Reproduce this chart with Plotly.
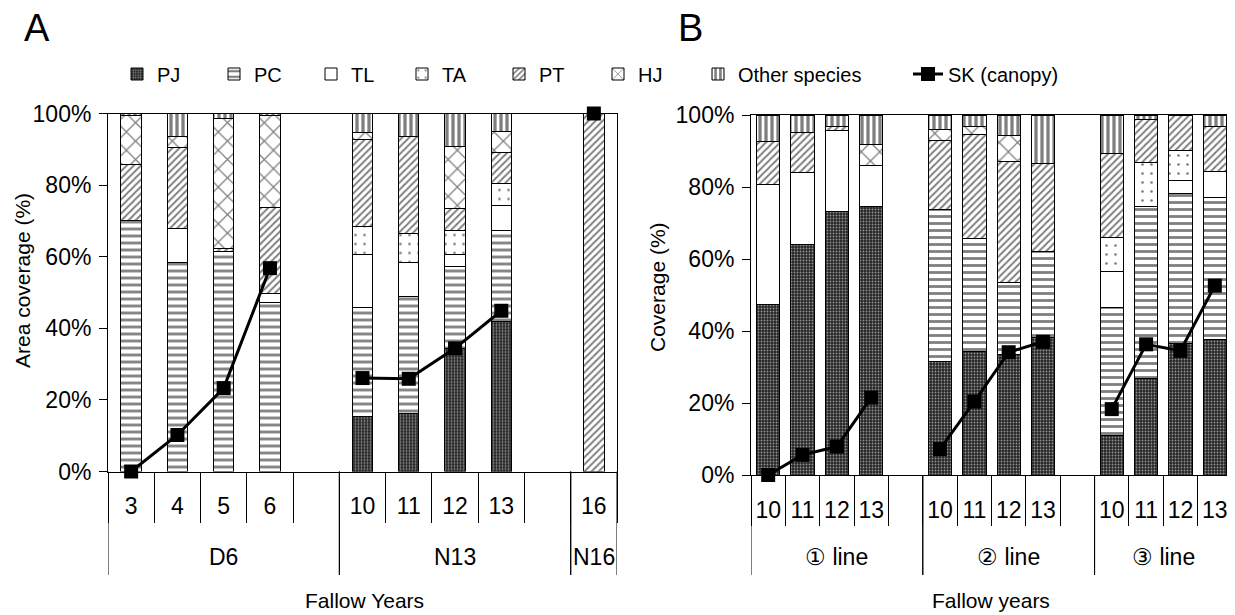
import plotly.graph_objects as go

# The page body adds an 8px margin; all pixel targets below are screenshot pixels.
OFF = 8
W, H = 1235 - OFF, 615 - OFF
FONT = "Arial, Liberation Sans, sans-serif"

SPECIES = ["PJ", "PC", "TL", "TA", "PT", "HJ", "Other species"]

# ---------------- Panel A data (% area coverage, stacked) ----------------
A_years = ["3", "4", "5", "6", "10", "11", "12", "13", "16"]
A_sites = ["D6", "D6", "D6", "D6", "N13", "N13", "N13", "N13", "N16"]
A_PJ = [0, 0, 0, 0, 15.3, 16.3, 34.4, 41.9, 0]
A_PC = [70.0, 58.3, 61.4, 47.2, 30.6, 32.7, 22.8, 25.5, 0]
A_TL = [0, 9.6, 0, 2.6, 14.6, 9.3, 3.3, 7.0, 0]
A_TA = [0, 0, 0, 0, 7.9, 8.2, 6.9, 6.1, 0]
A_PT = [15.8, 22.5, 1.0, 23.9, 24.3, 27.2, 6.1, 8.6, 100]
A_HJ = [13.7, 3.3, 36.1, 25.8, 2.0, 0, 17.2, 5.8, 0]
A_OT = [0.5, 6.3, 1.5, 0.5, 5.3, 6.3, 9.3, 5.1, 0]
A_SK = [0, 10.2, 23.3, 56.8, 26.1, 25.9, 34.4, 44.9, 100]

# ---------------- Panel B data ----------------
B_years = ["10", "11", "12", "13"] * 3
B_lines = ["① line"] * 4 + ["② line"] * 4 + ["③ line"] * 4
B_PJ = [47.5, 63.9, 73.3, 74.5, 31.5, 34.3, 33.5, 38.2, 11.1, 26.9, 36.6, 37.7]
B_PC = [0, 0, 0, 0, 42.3, 31.4, 19.9, 23.8, 35.5, 47.8, 41.6, 39.4]
B_TL = [33.3, 20.1, 22.5, 11.6, 0, 0, 0, 0, 9.9, 0, 3.7, 7.1]
B_TA = [0, 0, 0, 0, 0, 0, 0, 0, 9.4, 12.1, 8.2, 0]
B_PT = [11.8, 11.2, 1.0, 0, 19.1, 28.9, 33.6, 24.6, 23.5, 12.0, 9.9, 12.5]
B_HJ = [0, 0, 0, 5.6, 3.1, 2.2, 7.4, 0, 0, 0, 0, 0]
B_OT = [7.4, 4.8, 3.2, 8.3, 4.0, 3.2, 5.6, 13.4, 10.6, 1.2, 0, 3.3]
B_SK = [0, 5.6, 7.9, 21.5, 7.2, 20.4, 34.1, 37.0, 18.3, 36.3, 34.5, 52.6]

A_VALUES = [A_PJ, A_PC, A_TL, A_TA, A_PT, A_HJ, A_OT]
B_VALUES = [B_PJ, B_PC, B_TL, B_TA, B_PT, B_HJ, B_OT]

PATTERNS = {
    "PJ": dict(shape=".", size=3, solidity=0.3, fgcolor="white", bgcolor="#262626"),
    "PC": dict(shape="-", size=7, solidity=0.4, fgcolor="black", bgcolor="white"),
    "TL": dict(shape="", fgcolor="black", bgcolor="white"),
    "TA": dict(shape=".", size=9, solidity=0.07, fgcolor="black", bgcolor="white"),
    "PT": dict(shape="/", size=5, solidity=0.4, fgcolor="black", bgcolor="white"),
    "HJ": dict(shape="x", size=13, solidity=0.18, fgcolor="black", bgcolor="white"),
    "Other species": dict(shape="|", size=6, solidity=0.55, fgcolor="black", bgcolor="white"),
}
LEGEND_W = {"PJ": 52, "PC": 52, "TL": 46, "TA": 52, "PT": 54, "HJ": 54, "Other species": 165}


def slot_positions(groups):
    """Category slot index; one empty slot separates consecutive groups."""
    pos, g, prev = [], 0, None
    for i, grp in enumerate(groups):
        if prev is not None and grp != prev:
            g += 1
        pos.append(i + g)
        prev = grp
    return pos


def with_breaks(pos, vals, groups):
    xs, ys, prev = [], [], None
    for p, v, grp in zip(pos, vals, groups):
        if prev is not None and grp != prev:
            xs.append(None)
            ys.append(None)
        xs.append(p)
        ys.append(v)
        prev = grp
    return xs, ys


def nz(vals):
    return [v if v else None for v in vals]


A_pos = slot_positions(A_sites)
B_pos = slot_positions(B_lines)

fig = go.Figure()

for sp, av, bv in zip(SPECIES, A_VALUES, B_VALUES):
    leg = "legend2" if sp == "Other species" else "legend"
    fig.add_trace(go.Bar(
        x=A_pos, y=nz(av), name=sp, legendgroup=sp, width=0.44, legend=leg,
        legendwidth=LEGEND_W[sp],
        marker=dict(color="white", line=dict(color="black", width=1), pattern=PATTERNS[sp]),
        xaxis="x", yaxis="y", showlegend=True))
    fig.add_trace(go.Bar(
        x=B_pos, y=nz(bv), name=sp, legendgroup=sp, width=0.68, legend=leg,
        marker=dict(color="white", line=dict(color="black", width=1), pattern=PATTERNS[sp]),
        xaxis="x2", yaxis="y2", showlegend=False))

ax, ay = with_breaks(A_pos, A_SK, A_sites)
bx, by = with_breaks(B_pos, B_SK, B_lines)
line_style = dict(color="black", width=3)
mk = dict(symbol="square", size=14, color="black")
fig.add_trace(go.Scatter(x=ax, y=ay, mode="lines+markers", name="SK (canopy)", legendgroup="SK",
                         legend="legend2", line=line_style, marker=mk, cliponaxis=False,
                         xaxis="x", yaxis="y", connectgaps=False))
fig.add_trace(go.Scatter(x=bx, y=by, mode="lines+markers", name="SK (canopy)", legendgroup="SK",
                         legend="legend2", line=line_style, marker=mk, cliponaxis=False,
                         xaxis="x2", yaxis="y2", connectgaps=False, showlegend=False))


def px_x(p):
    return (p - OFF) / W


def px_y(p):
    return 1 - (p - OFF) / H


A_top, A_bot = 113.5, 471.5
B_top, B_bot = 115.0, 475.0
A_left, A_right = 108.0, 617.0
B_left, B_right = 751.0, 1232.0

A_nslots = A_pos[-1] + 1
B_nslots = B_pos[-1] + 1

common_x = dict(showline=True, linecolor="black", linewidth=1, mirror=True, showgrid=False,
                zeroline=False, ticks="", automargin=False, ticklabelstandoff=14,
                tickfont=dict(size=23, color="black", family=FONT),
                minor=dict(ticks="outside", ticklen=50, tickcolor="black", tickwidth=1,
                           tick0=0.5, dtick=1, showgrid=False))
common_y = dict(showline=True, linecolor="black", linewidth=1, mirror=True, showgrid=False,
                zeroline=False, range=[0, 100], dtick=20, ticksuffix="%", ticks="outside",
                ticklen=8, tickcolor="black", automargin=False, ticklabelstandoff=3,
                tickfont=dict(size=23, color="black", family=FONT))

legend_common = dict(orientation="h", xanchor="left", yanchor="middle", y=px_y(74),
                     font=dict(size=20, color="black", family=FONT), bgcolor="rgba(0,0,0,0)",
                     traceorder="normal", borderwidth=0)

fig.update_layout(
    width=W, height=H, margin=dict(l=0, r=0, t=0, b=0, pad=0, autoexpand=False),
    paper_bgcolor="white", plot_bgcolor="white",
    barmode="stack",
    font=dict(family=FONT, color="black"),
    xaxis=dict(domain=[px_x(A_left), px_x(A_right)], range=[-0.5, A_nslots - 0.5],
               tickvals=A_pos, ticktext=A_years, anchor="y", **common_x),
    yaxis=dict(domain=[px_y(A_bot), px_y(A_top)], anchor="x", **common_y),
    xaxis2=dict(domain=[px_x(B_left), px_x(B_right)], range=[-0.5, B_nslots - 0.5],
                tickvals=B_pos, ticktext=B_years, anchor="y2", **common_x),
    yaxis2=dict(domain=[px_y(B_bot), px_y(B_top)], anchor="x2", **common_y),
    legend=dict(x=px_x(117), **legend_common),
    legend2=dict(x=px_x(698), **legend_common),
    showlegend=True,
)

annotations = []
shapes = []


def group_spans(pos, groups, nslots):
    spans = []
    start = -0.5
    for i, grp in enumerate(groups):
        if i == len(groups) - 1 or groups[i + 1] != grp:
            end = pos[i] + 1.5 if i < len(groups) - 1 else nslots - 0.5
            spans.append((grp, start, end))
            start = end
    return spans


for xref, pos, groups, nslots, ybot in (("x", A_pos, A_sites, A_nslots, A_bot),
                                       ("x2", B_pos, B_lines, B_nslots, B_bot)):
    for name, s, e in group_spans(pos, groups, nslots):
        annotations.append(dict(x=(s + e) / 2, y=px_y(557), xref=xref, yref="paper",
                                text=name, showarrow=False, font=dict(size=23, family=FONT),
                                xanchor="center", yanchor="middle"))
        for xv in (s, e):
            shapes.append(dict(type="line", xref=xref, yref="paper", x0=xv, x1=xv,
                               y0=px_y(ybot), y1=px_y(575), line=dict(color="black", width=1)))


def label(x, y, text, size, angle=0):
    return dict(x=px_x(x), y=px_y(y), xref="paper", yref="paper", text=text, showarrow=False,
                textangle=angle, xanchor="center", yanchor="middle",
                font=dict(size=size, family=FONT, color="black"))


annotations += [
    label(37, 28, "A", 38),
    label(690, 28, "B", 38),
    label(22, 281, "Area coverage (%)", 21, -90),
    label(657, 287, "Coverage (%)", 21, -90),
    label(364, 600, "Fallow Years", 21),
    label(991, 600, "Fallow years", 21),
]

fig.update_layout(annotations=annotations, shapes=shapes)
fig.write_html("out.html")
